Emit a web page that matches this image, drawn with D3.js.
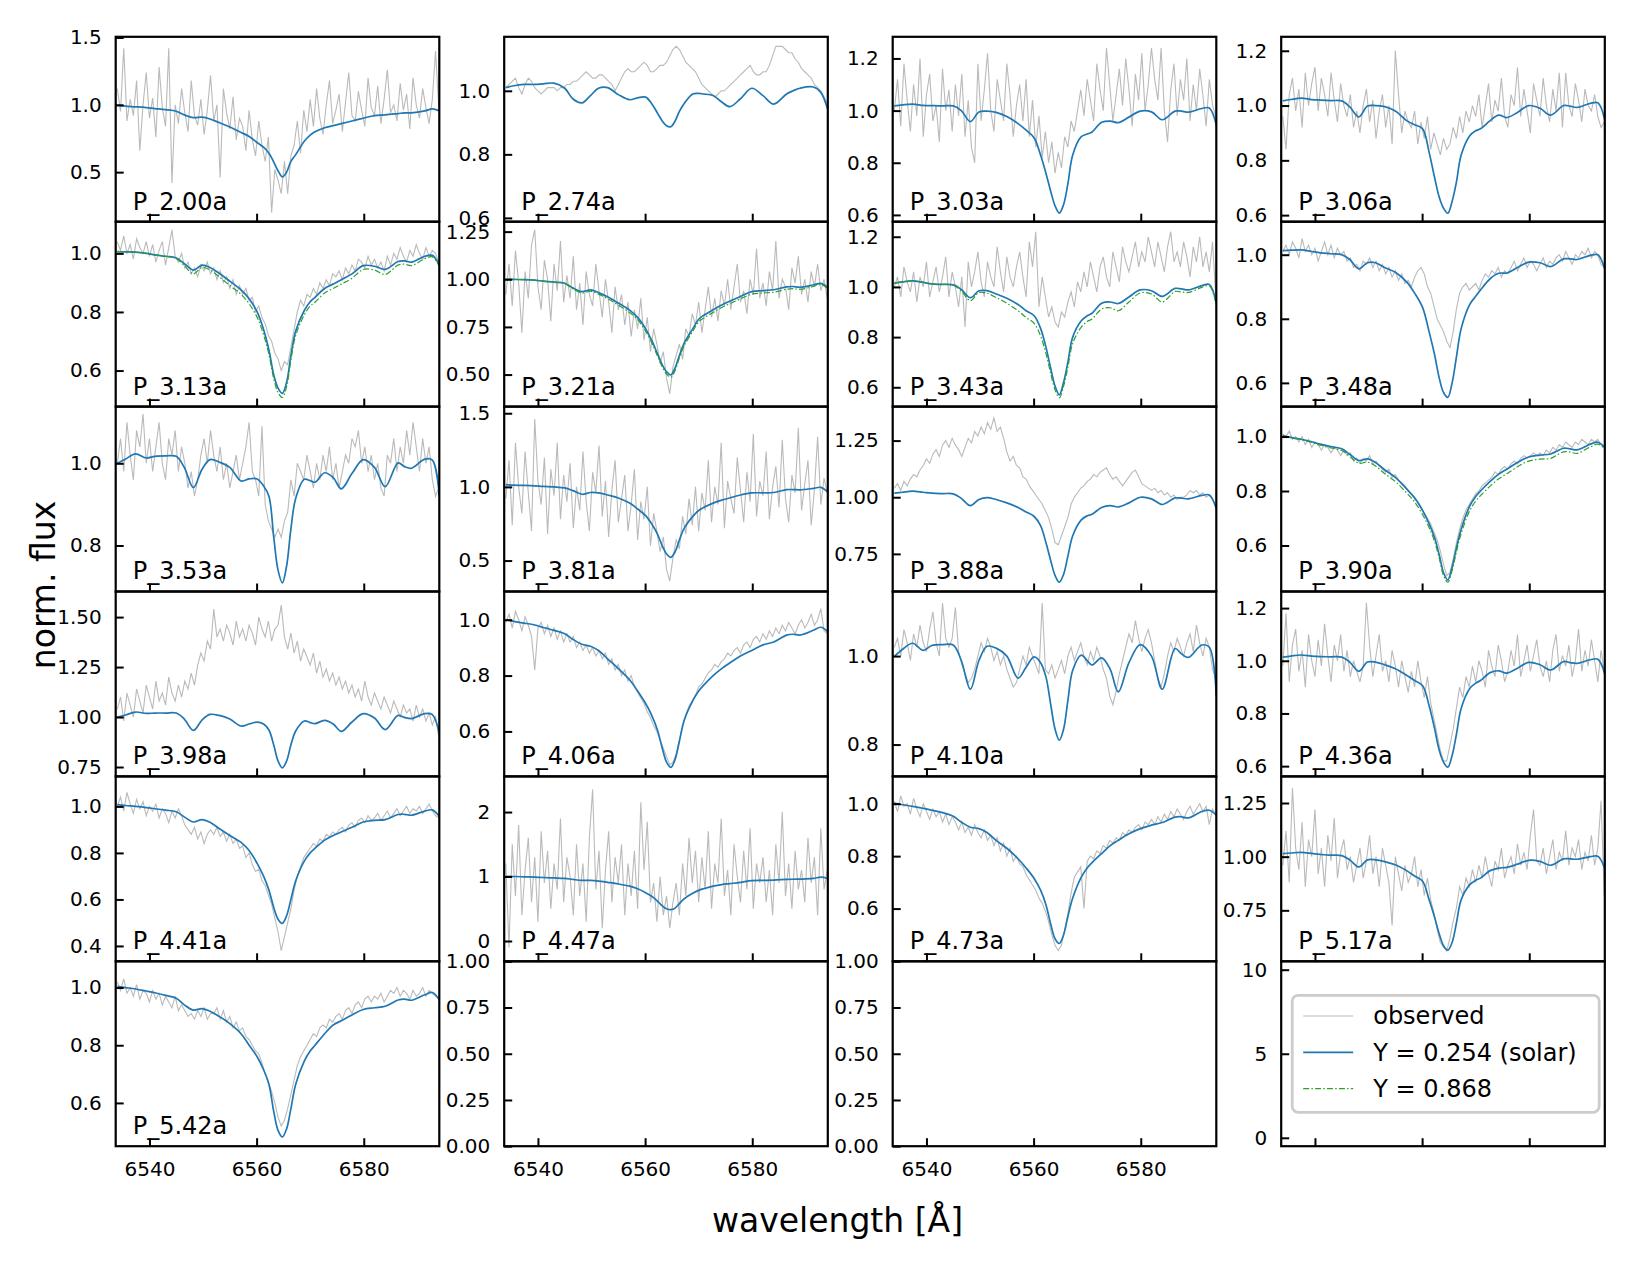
<!DOCTYPE html>
<html>
<head>
<meta charset="utf-8">
<script src="https://cdn.jsdelivr.net/npm/d3@7"></script>
<style>
  body { margin: 0; background: #fff; }
  svg text { font-family: "DejaVu Sans", sans-serif; }
</style>
</head>
<body>
<svg id="fig" width="1634" height="1271"></svg>
<script>
// ---- data ----
const panelLabels = ["P_2.00a","P_2.74a","P_3.03a","P_3.06a","P_3.13a","P_3.21a","P_3.43a","P_3.48a",
  "P_3.53a","P_3.81a","P_3.88a","P_3.90a","P_3.98a","P_4.06a","P_4.10a","P_4.36a",
  "P_4.41a","P_4.47a","P_4.73a","P_5.17a","P_5.42a"];

const legendLabels = ["observed", "Y = 0.254 (solar)", "Y = 0.868"];
const xTicks = [6540, 6560, 6580];
const xLim = [6533.7, 6594.1];

// y limits and tick labels per panel (same order as panelLabels)
const yLims = [[0.132,1.505],[0.588,1.17],[0.574,1.283],[0.576,1.251],[0.477,1.108],[0.332,1.302],
  [0.523,1.26],[0.526,1.103],[0.688,1.138],[0.29,1.545],[0.584,1.40],[0.431,1.11],[0.703,1.628],
  [0.439,1.101],[0.728,1.146],[0.561,1.263],[0.334,1.129],[-0.315,2.553],[0.399,1.104],
  [0.5125,1.374],[0.45,1.091]];
const yTickLabels = [["0.5","1.0","1.5"],["0.6","0.8","1.0"],["0.6","0.8","1.0","1.2"],["0.6","0.8","1.0","1.2"],
  ["0.6","0.8","1.0"],["0.50","0.75","1.00","1.25"],["0.6","0.8","1.0","1.2"],["0.6","0.8","1.0"],
  ["0.8","1.0"],["0.5","1.0","1.5"],["0.75","1.00","1.25"],["0.6","0.8","1.0"],
  ["0.75","1.00","1.25","1.50"],["0.6","0.8","1.0"],["0.8","1.0"],["0.6","0.8","1.0","1.2"],
  ["0.4","0.6","0.8","1.0"],["0","1","2"],["0.6","0.8","1.0"],["0.75","1.00","1.25"],["0.6","0.8","1.0"]];
const emptyYLim = [0, 1];
const emptyTickLabels = ["0.00","0.25","0.50","0.75","1.00"];
const legendYLim = [-0.5, 10.5];
const legendTickLabels = ["0","5","10"];

// model wavelength knots [A]
const modelWl = [6534, 6535.5, 6537.4, 6539.4, 6541, 6543, 6545, 6546.5, 6548.2, 6549.8,
  6551.3, 6553, 6555, 6557.1, 6558.6, 6560.1, 6561.3, 6562.3, 6563.2, 6564,
  6564.8, 6565.6, 6566.4, 6567.3, 6568.9, 6570, 6570.9, 6572.7, 6574.3, 6575.8,
  6577.8, 6579.9, 6582, 6584, 6586.4, 6587.6, 6588.9, 6591.4, 6592.8, 6594.1];

// model flux, Y = 0.254
const mod200 = [0.996,0.99,0.985,0.979,0.972,0.964,0.952,0.925,0.905,0.908,
  0.895,0.868,0.835,0.795,0.765,0.72,0.685,0.64,0.575,0.51,
  0.465,0.50,0.58,0.63,0.73,0.775,0.80,0.83,0.845,0.86,
  0.88,0.90,0.92,0.925,0.935,0.94,0.94,0.955,0.97,0.955];
const mod274 = [1.010,1.016,1.020,1.020,1.022,1.024,1.008,0.975,0.962,0.985,
  1.008,1.010,0.988,0.972,0.978,0.980,0.958,0.93,0.905,0.89,
  0.887,0.905,0.935,0.96,0.99,0.992,0.99,0.985,0.965,0.950,
  0.975,1.008,0.985,0.958,0.99,1.0,1.008,1.012,0.995,0.94];
const mod303 = [1.018,1.022,1.025,1.02,1.019,1.018,1.018,1.0,0.958,0.995,
  0.998,0.993,0.977,0.95,0.925,0.895,0.83,0.76,0.69,0.635,
  0.607,0.64,0.72,0.83,0.90,0.91,0.918,0.955,0.96,0.954,
  0.975,0.998,0.995,0.965,0.998,0.998,0.994,1.008,1.01,0.945];
const mod306 = [1.017,1.022,1.027,1.022,1.02,1.018,1.017,0.995,0.959,0.998,
  1.0,0.996,0.98,0.945,0.93,0.915,0.83,0.74,0.665,0.625,
  0.607,0.65,0.72,0.82,0.89,0.908,0.915,0.945,0.965,0.956,
  0.975,1.0,0.99,0.965,1.0,0.998,0.993,1.008,1.01,0.948];
const mod313 = [1.006,1.005,1.004,1.0,0.995,0.99,0.984,0.965,0.943,0.96,
  0.952,0.932,0.905,0.875,0.845,0.80,0.74,0.67,0.585,0.54,
  0.522,0.56,0.65,0.735,0.805,0.835,0.85,0.88,0.895,0.91,
  0.93,0.958,0.956,0.945,0.972,0.974,0.97,0.99,0.993,0.96];
const mod321 = [1.0,0.999,0.998,0.995,0.99,0.985,0.979,0.955,0.935,0.944,
  0.93,0.908,0.875,0.838,0.80,0.74,0.675,0.61,0.551,0.515,
  0.498,0.535,0.60,0.665,0.74,0.79,0.81,0.84,0.865,0.885,
  0.91,0.935,0.94,0.945,0.96,0.962,0.958,0.97,0.978,0.955];
const mod343 = [1.015,1.02,1.024,1.018,1.012,1.01,1.008,0.99,0.957,0.985,
  0.985,0.972,0.955,0.93,0.905,0.885,0.835,0.76,0.675,0.605,
  0.57,0.62,0.70,0.80,0.865,0.885,0.895,0.935,0.94,0.934,
  0.96,0.988,0.985,0.962,0.994,0.992,0.988,1.005,1.01,0.935];
const mod348 = [1.013,1.014,1.015,1.01,1.006,1.003,1.0,0.985,0.956,0.975,
  0.975,0.96,0.945,0.915,0.88,0.835,0.76,0.69,0.615,0.57,
  0.555,0.60,0.68,0.77,0.845,0.87,0.89,0.925,0.942,0.943,
  0.96,0.977,0.975,0.963,0.987,0.987,0.985,0.998,1.0,0.955];
const mod353 = [1.0,1.01,1.023,1.013,1.017,1.018,1.017,0.99,0.941,0.985,
  1.009,1.003,0.99,0.957,0.962,0.962,0.945,0.92,0.82,0.74,
  0.709,0.75,0.84,0.915,0.961,0.958,0.954,0.977,0.965,0.938,
  0.975,1.009,0.99,0.943,1.001,0.992,0.988,1.010,1.008,0.92];
const mod381 = [1.015,1.012,1.01,1.007,1.003,1.0,0.993,0.975,0.95,0.962,
  0.96,0.945,0.925,0.89,0.85,0.805,0.745,0.68,0.60,0.545,
  0.522,0.56,0.64,0.72,0.80,0.84,0.86,0.89,0.91,0.925,
  0.945,0.959,0.96,0.962,0.981,0.982,0.98,0.99,0.997,0.965];
const mod388 = [1.018,1.022,1.027,1.022,1.018,1.016,1.015,0.995,0.963,0.99,
  0.998,0.99,0.975,0.955,0.935,0.915,0.875,0.80,0.72,0.655,
  0.625,0.66,0.74,0.83,0.90,0.918,0.925,0.955,0.963,0.957,
  0.975,1.0,0.993,0.968,0.997,0.996,0.993,1.008,1.01,0.95];
const mod390 = [1.004,0.997,0.99,0.981,0.972,0.963,0.955,0.935,0.912,0.918,
  0.905,0.878,0.85,0.808,0.775,0.728,0.68,0.63,0.565,0.50,
  0.474,0.52,0.59,0.66,0.745,0.78,0.80,0.835,0.862,0.88,
  0.905,0.925,0.932,0.936,0.957,0.955,0.951,0.972,0.979,0.96];
const mod398 = [1.00,1.01,1.025,1.018,1.02,1.02,1.02,0.99,0.933,0.985,
  1.013,1.008,0.99,0.955,0.965,0.975,0.965,0.935,0.86,0.78,
  0.746,0.78,0.86,0.93,0.98,0.972,0.967,0.983,0.965,0.928,
  0.975,1.017,0.995,0.937,1.008,0.998,0.992,1.017,1.012,0.92];
const mod406 = [1.0,0.994,0.988,0.981,0.972,0.962,0.95,0.93,0.912,0.905,
  0.89,0.86,0.825,0.785,0.745,0.70,0.655,0.605,0.54,0.49,
  0.471,0.50,0.565,0.64,0.71,0.745,0.765,0.80,0.825,0.845,
  0.87,0.89,0.91,0.92,0.945,0.948,0.945,0.962,0.973,0.957];
const mod410 = [0.999,1.015,1.029,1.013,1.024,1.026,1.025,0.99,0.925,0.99,
  1.022,1.018,1.0,0.950,0.975,0.998,0.985,0.953,0.89,0.835,
  0.810,0.835,0.90,0.968,1.002,0.99,0.980,0.996,0.97,0.919,
  0.985,1.026,1.0,0.925,1.017,1.005,0.997,1.025,1.02,0.91];
const mod436 = [1.014,1.018,1.022,1.018,1.016,1.015,1.014,0.995,0.96,0.995,
  0.995,0.985,0.97,0.945,0.925,0.905,0.83,0.745,0.66,0.615,
  0.596,0.64,0.72,0.82,0.895,0.915,0.925,0.955,0.962,0.953,
  0.972,0.994,0.985,0.965,0.997,0.993,0.99,1.004,1.006,0.95];
const mod441 = [1.008,1.004,1.0,0.995,0.99,0.984,0.977,0.955,0.933,0.943,
  0.932,0.905,0.875,0.845,0.81,0.755,0.70,0.64,0.565,0.515,
  0.497,0.53,0.60,0.68,0.765,0.80,0.82,0.855,0.875,0.89,
  0.91,0.933,0.94,0.943,0.965,0.966,0.962,0.98,0.985,0.957];
const mod447 = [1.003,1.0,0.995,0.99,0.985,0.978,0.97,0.955,0.94,0.94,
  0.93,0.91,0.885,0.85,0.81,0.75,0.69,0.62,0.545,0.50,
  0.486,0.51,0.58,0.655,0.74,0.785,0.81,0.85,0.875,0.89,
  0.91,0.935,0.94,0.945,0.955,0.958,0.96,0.97,0.99,0.97];
const mod473 = [1.002,0.996,0.99,0.982,0.975,0.966,0.952,0.93,0.91,0.905,
  0.89,0.86,0.83,0.79,0.755,0.715,0.67,0.615,0.54,0.485,
  0.467,0.50,0.57,0.64,0.72,0.755,0.775,0.81,0.84,0.86,
  0.885,0.905,0.918,0.928,0.949,0.95,0.946,0.97,0.975,0.956];
const mod517 = [1.014,1.017,1.02,1.015,1.01,1.007,1.005,0.985,0.952,0.985,
  0.985,0.977,0.962,0.935,0.91,0.885,0.80,0.72,0.64,0.585,
  0.564,0.60,0.69,0.80,0.87,0.89,0.90,0.935,0.947,0.95,
  0.965,0.983,0.978,0.96,0.99,0.99,0.988,1.0,1.002,0.945];
const mod542 = [1.004,1.0,0.995,0.988,0.982,0.973,0.963,0.94,0.922,0.927,
  0.918,0.9,0.875,0.84,0.80,0.76,0.715,0.665,0.57,0.505,
  0.482,0.51,0.58,0.665,0.745,0.78,0.80,0.84,0.87,0.885,
  0.905,0.924,0.93,0.935,0.957,0.96,0.956,0.975,0.983,0.958];

// model flux, Y = 0.868 (only shown in four panels)
const grn313 = [1.006,1.005,1.004,1.0,0.995,0.99,0.983,0.958,0.93,0.952,
  0.943,0.92,0.89,0.86,0.828,0.782,0.722,0.655,0.572,0.525,
  0.508,0.545,0.635,0.72,0.79,0.82,0.833,0.865,0.88,0.895,
  0.915,0.945,0.943,0.928,0.96,0.963,0.958,0.982,0.988,0.955];
const grn321 = [1.0,0.999,0.998,0.995,0.99,0.985,0.978,0.95,0.928,0.937,
  0.922,0.898,0.864,0.826,0.788,0.728,0.663,0.598,0.54,0.503,
  0.486,0.522,0.588,0.652,0.727,0.776,0.796,0.826,0.852,0.872,
  0.897,0.922,0.928,0.932,0.948,0.951,0.947,0.962,0.972,0.952];
const grn343 = [1.015,1.02,1.024,1.018,1.012,1.01,1.007,0.985,0.945,0.978,
  0.975,0.958,0.935,0.905,0.878,0.855,0.805,0.735,0.655,0.59,
  0.558,0.605,0.68,0.775,0.84,0.862,0.872,0.912,0.917,0.905,
  0.94,0.976,0.972,0.94,0.982,0.98,0.978,0.998,1.005,0.93];
const grn390 = [1.004,0.996,0.988,0.978,0.968,0.958,0.949,0.927,0.902,0.906,
  0.892,0.864,0.835,0.793,0.76,0.713,0.666,0.617,0.553,0.49,
  0.465,0.508,0.576,0.645,0.728,0.763,0.783,0.818,0.845,0.863,
  0.889,0.91,0.917,0.92,0.944,0.943,0.938,0.962,0.972,0.955];

// observed flux x100, sampled every 0.6 A from 6534 A
const obs200 = [112,95,142,88,104,92,118,66,100,124,90,105,76,128,98,84,142,42,100,86,
  112,94,80,118,92,85,104,78,96,122,88,100,46,112,94,82,106,74,90,84,
  66,96,74,62,88,70,58,76,20,52,44,34,58,34,62,70,88,64,96,80,
  104,84,112,90,78,100,118,86,96,108,80,102,124,92,88,110,96,84,120,98,
  92,114,86,104,126,94,100,88,116,96,108,82,120,100,90,112,98,86,104,140,98];
const obs274 = [101,102,103,104,101,99,102,104,103,101,100,99,100,101,101,101,100,101,101,102,
  102,103,103,104,105,106,105,104,104,105,105,104,103,102,100,102,104,106,107,106,
  106,107,108,109,108,106,106,107,108,108,109,111,113,114,113,111,109,108,107,106,
  104,102,101,100,99,98,99,100,100,101,102,103,104,105,106,107,108,106,105,105,
  106,106,108,111,114,114,114,113,112,112,110,109,107,106,105,104,102,101,100,98,96];
const obs303 = [100,112,94,118,104,92,110,98,120,90,106,114,96,102,88,116,100,108,92,110,
  98,114,90,104,86,80,118,96,108,122,100,92,112,104,96,118,106,90,102,110,
  96,112,90,104,86,98,82,92,80,88,76,84,78,90,86,96,92,100,108,98,
  112,104,96,118,108,100,124,110,96,106,116,102,120,108,94,114,104,122,100,110,
  124,112,104,124,100,88,108,118,98,112,104,120,96,110,100,116,106,94,112,102,98];
const obs306 = [96,84,104,110,98,106,92,112,100,108,114,98,110,104,96,112,102,94,108,100,
  96,104,92,98,90,100,106,94,102,88,98,104,92,100,86,120,104,90,98,94,
  92,98,86,94,88,96,84,90,86,82,88,84,86,92,88,96,90,98,94,100,
  96,104,92,100,108,94,102,98,110,96,92,104,100,114,96,106,98,90,108,102,
  96,110,100,94,106,98,112,92,112,100,96,108,102,94,106,100,98,104,96,92,94];
const obs313 = [104,101,106,100,103,98,105,102,100,104,99,103,97,101,104,96,102,108,99,97,
  100,95,97,93,95,92,96,94,97,93,95,91,94,90,92,88,91,86,89,86,
  88,84,85,80,82,78,76,72,70,66,64,60,63,62,68,74,80,84,82,86,
  85,88,86,90,88,91,89,93,92,94,91,95,93,96,94,98,97,95,99,96,
  98,95,97,94,99,96,100,98,102,99,97,101,99,103,100,98,102,99,101,100,97];
const obs321 = [92,108,86,115,98,72,104,90,118,126,96,84,110,100,78,108,94,120,88,102,
  90,112,84,98,76,104,92,86,108,94,80,100,88,72,96,84,92,76,88,70,
  84,74,90,68,80,62,74,66,56,62,48,40,54,60,66,58,74,70,82,76,
  88,72,84,96,80,90,78,94,86,100,84,96,108,88,94,82,100,92,116,90,
  98,86,104,94,120,90,100,96,84,106,98,112,92,100,88,104,96,108,94,100,90];
const obs343 = [100,104,96,108,102,98,106,94,104,100,110,96,102,108,98,104,112,96,106,100,
  92,104,84,110,100,106,114,102,96,110,104,100,116,106,98,112,104,100,108,114,
  104,96,118,108,122,92,104,96,88,92,86,84,90,88,94,98,92,102,98,106,
  100,110,104,98,108,112,104,100,114,108,102,116,110,106,112,118,108,114,110,120,
  114,108,118,112,106,116,122,110,114,108,118,112,104,116,110,120,108,114,106,118,96];
const obs348 = [101,103,100,104,102,99,105,101,103,100,102,98,101,104,100,103,99,102,100,101,
  98,99,96,97,95,98,97,99,96,98,95,97,94,96,93,95,92,94,91,92,
  90,93,95,96,94,90,88,84,80,78,76,73,71,76,83,88,90,91,89,90,
  91,89,92,94,93,95,94,96,93,95,94,96,98,95,97,99,96,98,97,95,
  97,99,96,98,97,99,100,98,101,99,97,100,99,101,100,102,99,101,100,97,96];
const obs353 = [100,106,98,110,102,96,108,104,112,100,106,98,104,110,100,96,106,102,108,98,
  104,100,94,98,92,96,102,106,100,108,102,98,104,96,100,94,98,102,96,100,
  104,110,98,96,92,109,90,86,84,82,84,82,86,88,96,92,100,98,96,102,
  98,94,100,96,102,98,104,96,100,94,98,102,100,106,104,108,100,104,98,102,
  96,100,94,92,102,100,106,98,104,100,108,102,110,104,98,106,100,104,96,92,94];
const obs381 = [92,118,74,130,100,82,124,96,70,146,104,88,120,68,112,94,130,78,108,90,
  116,72,100,84,124,90,70,110,96,128,80,104,66,98,118,76,92,108,70,88,
  112,64,90,78,100,60,82,70,56,66,44,36,52,64,58,80,68,92,74,100,
  70,96,84,118,76,100,88,130,72,104,92,82,120,98,76,110,90,136,80,104,
  94,124,78,100,114,86,132,92,76,108,96,140,84,102,118,74,98,134,88,106,96];
const obs388 = [104,106,103,107,105,108,110,109,112,114,117,115,119,121,118,123,125,122,126,123,
  121,118,122,126,124,129,127,131,128,133,130,135,129,131,126,120,116,118,114,113,
  109,108,105,103,101,99,97,94,91,86,80,79,83,87,91,97,100,102,104,105,
  107,108,110,109,111,112,113,110,108,109,107,105,107,109,111,112,109,106,105,104,
  103,104,102,103,101,102,100,101,99,100,100,101,103,102,103,101,102,100,101,99,96];
const obs390 = [101,100,102,99,100,98,100,97,99,96,98,97,95,97,96,94,96,95,93,95,
  93,94,91,92,90,92,91,93,90,91,89,88,87,88,85,86,84,83,82,80,
  79,77,76,74,72,70,68,65,62,58,53,49,50,55,61,66,70,73,75,77,
  79,80,82,83,84,85,87,86,88,89,88,90,91,90,92,93,92,93,94,93,
  94,93,95,94,96,95,97,96,98,97,96,98,97,99,98,97,99,98,99,97,96];
const obs398 = [104,110,98,112,106,100,114,108,102,116,110,104,118,108,112,106,120,112,108,116,
  110,118,114,122,116,126,132,128,138,134,154,140,144,138,146,142,136,148,140,144,
  138,146,142,136,150,144,140,148,138,144,146,156,140,134,142,132,138,128,134,130,
  126,132,122,128,120,124,118,122,116,120,114,118,112,116,110,114,108,118,110,106,
  112,108,104,110,106,102,108,104,100,106,102,104,98,106,100,104,98,102,96,100,90];
const obs406 = [99,102,97,103,100,96,101,98,94,82,97,99,95,98,94,97,93,96,92,95,
  92,94,90,92,89,91,88,90,87,89,86,88,84,86,82,84,80,82,78,80,
  76,74,72,70,67,65,62,60,57,54,51,48,49,52,57,62,66,69,71,73,
  76,77,79,81,82,84,83,85,86,88,87,89,90,88,91,92,90,93,94,92,
  95,93,96,94,97,95,98,96,99,97,95,98,100,97,99,102,98,100,104,96,95];
const obs410 = [102,104,100,106,103,99,105,102,107,103,101,106,110,103,100,112,104,102,104,111,
  101,98,96,94,95,97,100,103,101,104,102,99,101,98,100,97,95,93,94,97,
  100,98,102,100,98,96,112,97,96,98,95,97,99,96,100,102,99,101,103,100,
  98,101,99,102,100,97,95,91,89,92,96,99,102,105,103,108,104,101,104,106,
  103,99,95,93,96,100,103,101,104,102,100,103,105,101,107,103,100,104,102,97,95];
const obs436 = [98,118,92,106,112,96,104,90,110,100,94,108,98,114,102,92,106,100,110,96,
  104,94,100,96,92,98,122,106,94,102,110,96,100,92,104,98,90,100,94,88,
  96,90,100,92,86,94,84,78,72,66,62,62,68,74,82,90,86,94,90,98,
  92,100,96,90,104,98,94,106,100,92,96,104,98,110,94,100,106,96,102,108,
  98,94,100,92,104,110,96,102,98,106,94,100,112,96,104,98,108,100,92,104,96];
const obs441 = [100,104,98,106,101,97,103,99,102,96,100,98,101,95,99,97,93,98,95,99,
  96,92,90,88,91,86,89,84,88,90,88,91,87,89,85,88,84,86,82,83,
  78,80,75,72,73,68,66,62,58,52,46,38,44,50,56,64,70,74,78,80,
  82,84,83,86,85,88,87,89,88,90,91,89,92,93,91,94,95,93,96,94,
  95,97,94,96,98,95,97,99,96,98,100,97,99,98,100,97,99,101,98,96,95];
const obs447 = [120,-10,150,70,180,40,110,160,60,130,30,170,90,140,50,120,80,190,60,130,
  100,40,150,70,120,30,160,235,80,140,20,110,170,60,130,90,150,40,120,70,
  140,50,215,110,185,60,90,30,100,40,70,20,60,90,40,120,70,160,90,140,
  60,130,80,170,50,120,90,190,70,110,40,150,100,60,140,80,175,50,120,90,
  130,60,110,40,150,90,200,70,120,50,140,80,110,60,160,90,130,40,175,80,110];
const obs473 = [101,97,103,99,100,96,102,98,95,100,97,94,98,95,97,93,96,92,95,93,
  90,93,89,91,88,92,89,87,90,86,88,84,87,82,85,80,83,78,80,77,
  76,73,71,69,67,64,62,59,55,50,46,44,46,52,58,66,72,74,76,60,
  78,80,79,82,81,84,83,86,85,87,86,89,88,90,89,91,92,90,93,92,
  94,92,95,93,96,94,97,95,98,96,94,97,99,96,98,100,97,99,92,98,96];
const obs517 = [96,112,88,132,104,94,116,86,108,100,122,92,104,86,110,98,118,90,102,108,
  94,100,88,96,104,90,98,110,92,100,86,104,96,88,68,100,92,84,96,88,
  92,100,86,94,82,90,80,74,66,60,58,56,62,70,76,86,82,90,86,94,
  88,96,90,100,92,86,98,94,104,90,96,100,92,106,96,102,94,110,122,98,
  96,104,92,100,108,94,102,98,112,96,104,100,108,94,102,98,110,96,104,126,82];
const obs542 = [102,99,103,98,100,97,101,96,99,98,95,99,96,98,94,97,95,93,97,92,
  94,92,90,91,89,92,90,93,89,91,91,93,89,92,88,90,86,88,85,86,
  83,82,80,78,77,74,70,67,64,60,55,52,54,58,63,68,73,76,78,80,
  82,84,83,86,87,86,89,88,90,91,89,92,93,91,94,95,93,96,97,95,
  97,96,98,95,97,99,98,100,97,99,98,96,99,97,98,100,97,99,98,97,96];

const modelSeries = [mod200,mod274,mod303,mod306,mod313,mod321,mod343,mod348,mod353,mod381,mod388,
  mod390,mod398,mod406,mod410,mod436,mod441,mod447,mod473,mod517,mod542];
const obsSeries = [obs200,obs274,obs303,obs306,obs313,obs321,obs343,obs348,obs353,obs381,obs388,
  obs390,obs398,obs406,obs410,obs436,obs441,obs447,obs473,obs517,obs542];
const greenByLabel = { "P_3.13a": grn313, "P_3.21a": grn321, "P_3.43a": grn343, "P_3.90a": grn390 };

const obsWl = d3.range(obsSeries[0].length).map(i => 6534 + 0.6 * i);

// ---- layout ----
const left0 = 115.7, colStep = 388.5, pw = 323.6;
const top0 = 36.8, ph = 184.9;
const cObs = "#bababa", cBlue = "#1f77b4", cGreen = "#2ca02c";

const svg = d3.select("#fig");
const x = d3.scaleLinear().domain(xLim).range([0, pw]);

const panels = [];
panelLabels.forEach((lab, i) => panels.push({
  kind: "data", label: lab, ylim: yLims[i], ticks: yTickLabels[i],
  model: modelSeries[i], obs: obsSeries[i], green: greenByLabel[lab] || null
}));
panels.push({ kind: "empty", ylim: emptyYLim, ticks: emptyTickLabels });
panels.push({ kind: "empty", ylim: emptyYLim, ticks: emptyTickLabels });
panels.push({ kind: "legend", ylim: legendYLim, ticks: legendTickLabels });

panels.forEach((p, idx) => {
  const row = Math.floor(idx / 4), col = idx % 4;
  const g = svg.append("g")
    .attr("transform", `translate(${left0 + col * colStep},${top0 + row * ph})`);
  const y = d3.scaleLinear().domain(p.ylim).range([ph, 0]);

  g.append("clipPath").attr("id", "clip" + idx)
    .append("rect").attr("width", pw).attr("height", ph);
  const plot = g.append("g").attr("clip-path", `url(#clip${idx})`);

  if (p.kind === "data") {
    const obsLine = d3.line().x(d => x(d[0])).y(d => y(d[1] / 100));
    plot.append("path")
      .datum(p.obs.map((v, i) => [obsWl[i], v]))
      .attr("d", obsLine)
      .attr("fill", "none").attr("stroke", cObs).attr("stroke-width", 1.1);

    const modLine = d3.line().x(d => x(d[0])).y(d => y(d[1]))
      .curve(d3.curveCatmullRom.alpha(0.5));
    plot.append("path")
      .datum(p.model.map((v, i) => [modelWl[i], v]))
      .attr("d", modLine)
      .attr("fill", "none").attr("stroke", cBlue).attr("stroke-width", 1.7);
    if (p.green) {
      plot.append("path")
        .datum(p.green.map((v, i) => [modelWl[i], v]))
        .attr("d", modLine)
        .attr("fill", "none").attr("stroke", cGreen).attr("stroke-width", 1.2)
        .attr("stroke-dasharray", "6,2.2,1.5,2.2");
    }
  }

  // y axis, ticks pointing inward
  const yAxis = d3.axisLeft(y)
    .tickValues(p.ticks.map(Number))
    .tickFormat((d, i) => p.ticks[i])
    .tickSizeInner(-8).tickSizeOuter(0).tickPadding(14);
  const ya = g.append("g").call(yAxis);
  ya.select(".domain").remove();
  ya.selectAll("line").attr("stroke", "#000").attr("stroke-width", 2);
  ya.selectAll("text").attr("font-size", 20).attr("font-family", "DejaVu Sans").attr("fill", "#000");

  // x axis
  const showX = row === 5 && col < 3;
  const xAxis = d3.axisBottom(x).tickValues(xTicks)
    .tickFormat(showX ? d3.format("d") : () => "")
    .tickSizeInner(-8).tickSizeOuter(0).tickPadding(16);
  const xa = g.append("g").attr("transform", `translate(0,${ph})`).call(xAxis);
  xa.select(".domain").remove();
  xa.selectAll("line").attr("stroke", "#000").attr("stroke-width", 2);
  xa.selectAll("text").attr("font-size", 20).attr("font-family", "DejaVu Sans").attr("fill", "#000");

  g.append("rect").attr("width", pw).attr("height", ph)
    .attr("fill", "none").attr("stroke", "#000").attr("stroke-width", 2.2);

  if (p.kind === "data") {
    g.append("text").attr("x", 17).attr("y", ph - 12)
      .attr("font-size", 24).attr("fill", "#000").text(p.label);
  }

  if (p.kind === "legend") {
    const lg = g.append("g").attr("transform", "translate(11,34)");
    lg.append("rect").attr("width", 307).attr("height", 117).attr("rx", 6)
      .attr("fill", "#fff").attr("fill-opacity", 0.8)
      .attr("stroke", "#cccccc").attr("stroke-width", 2.8);
    const styles = [
      { c: cObs, w: 1.1, dash: null },
      { c: cBlue, w: 1.7, dash: null },
      { c: cGreen, w: 1.2, dash: "6,2.2,1.5,2.2" }
    ];
    legendLabels.forEach((t, i) => {
      const yy = 20.7 + i * 36.3;
      const ln = lg.append("line").attr("x1", 11).attr("x2", 61).attr("y1", yy).attr("y2", yy)
        .attr("stroke", styles[i].c).attr("stroke-width", styles[i].w);
      if (styles[i].dash) ln.attr("stroke-dasharray", styles[i].dash);
      lg.append("text").attr("x", 81).attr("y", yy).attr("dy", "0.35em")
        .attr("font-size", 24).attr("fill", "#000").text(t);
    });
  }
});

svg.append("text").attr("x", 837.5).attr("y", 1231.7).attr("text-anchor", "middle")
  .attr("font-size", 33).attr("fill", "#000").text("wavelength [Å]");
svg.append("text").attr("transform", "translate(55,585) rotate(-90)")
  .attr("text-anchor", "middle").attr("font-size", 33).attr("fill", "#000").text("norm. flux");
</script>
</body>
</html>
